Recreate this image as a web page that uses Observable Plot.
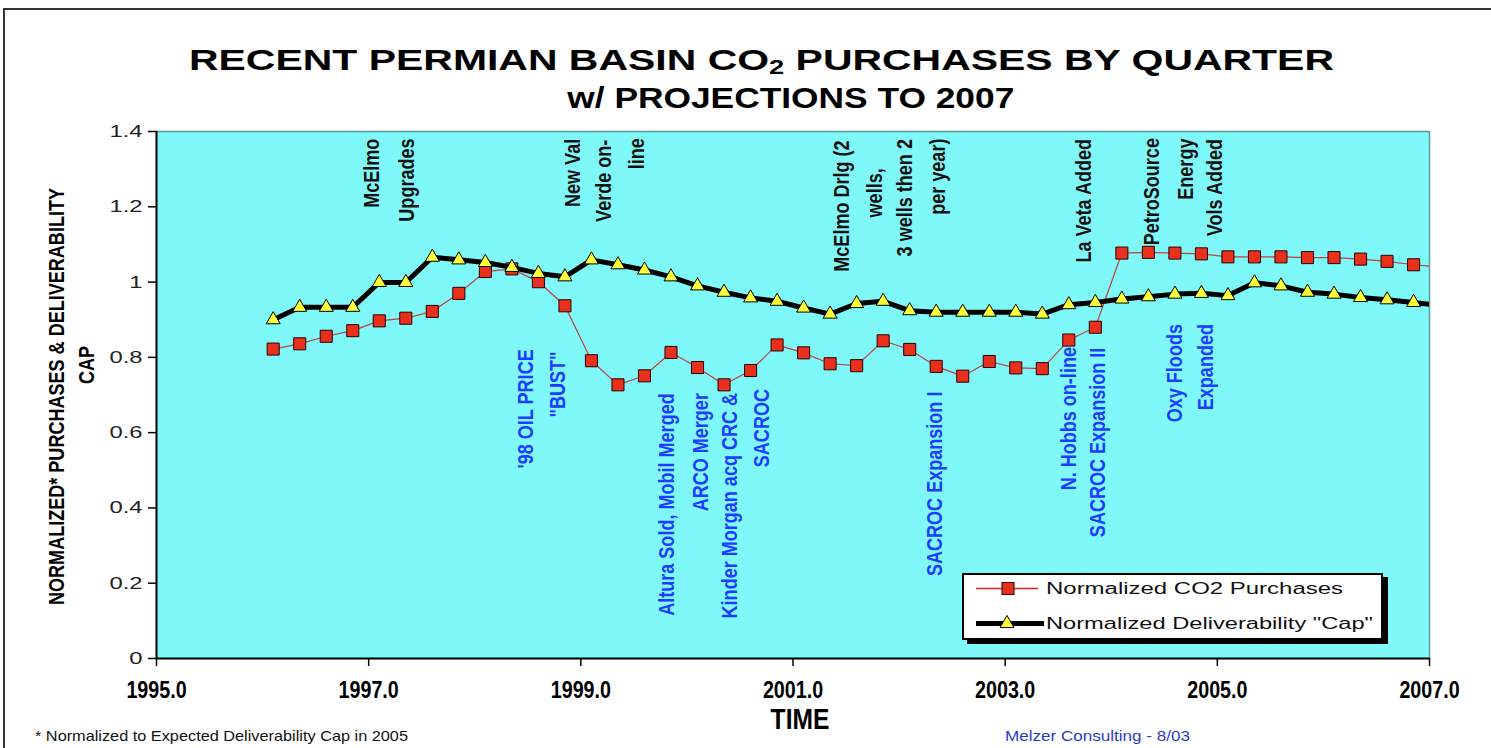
<!DOCTYPE html>
<html><head><meta charset="utf-8">
<script src="https://cdn.jsdelivr.net/npm/d3@7"></script>
<script src="https://cdn.jsdelivr.net/npm/@observablehq/plot@0.6"></script>
<style>
body{margin:0;background:#fff;width:1491px;height:748px;overflow:hidden;position:relative;font-family:"Liberation Sans",Arial,sans-serif}
#frame{position:absolute;left:3px;top:8px;width:1520px;height:800px;border:2px solid #333;box-sizing:border-box;pointer-events:none}
#title{height:118px;position:relative}
.tline{position:absolute;width:1491px;text-align:center;font-weight:bold;color:#000;white-space:nowrap;font-size:30px;line-height:30px}
.tline span{display:inline-block;transform-origin:50% 50%}
#chart svg{display:block}
.note{position:absolute;white-space:nowrap;font-size:15px;line-height:15px;transform-origin:0 50%}
#legend{position:absolute;left:962px;top:573px;width:421px;height:67px;background:#fff;border:2px solid #000;box-shadow:5px 4px 0 #000;box-sizing:border-box}
</style></head>
<body>
<div id="frame"></div>
<div id="title">
  <div class="tline" id="t1" style="left:16px;top:45px"><span></span></div>
  <div class="tline" id="t2" style="left:45px;top:83px"><span></span></div>
</div>
<div id="chart"></div>
<div class="note" id="foot1" style="left:35px;top:728px;color:#111"></div>
<div class="note" id="foot2" style="left:1005px;top:728px;color:#2a3cc8"></div>
<div id="legend"></div>
<script>
// ---- data ----
const time = [1996.10,1996.35,1996.60,1996.85,1997.10,1997.35,1997.60,1997.85,1998.10,1998.35,1998.60,1998.85,
  1999.10,1999.35,1999.60,1999.85,2000.10,2000.35,2000.60,2000.85,2001.10,2001.35,2001.60,2001.85,
  2002.10,2002.35,2002.60,2002.85,2003.10,2003.35,2003.60,2003.85,2004.10,2004.35,2004.60,2004.85,
  2005.10,2005.35,2005.60,2005.85,2006.10,2006.35,2006.60,2006.85,2007.10];
const purchases = [0.822,0.836,0.856,0.871,0.897,0.904,0.922,0.970,1.028,1.035,1.001,0.937,
  0.791,0.727,0.751,0.813,0.773,0.727,0.765,0.833,0.812,0.783,0.778,0.844,
  0.821,0.776,0.750,0.789,0.772,0.770,0.846,0.880,1.077,1.079,1.077,1.075,
  1.067,1.067,1.067,1.065,1.065,1.061,1.055,1.046,1.040];
const deliverability = [0.900,0.933,0.933,0.933,0.999,0.999,1.066,1.059,1.052,1.039,1.023,1.014,
  1.059,1.046,1.032,1.014,0.990,0.973,0.958,0.949,0.931,0.915,0.943,0.949,
  0.924,0.920,0.920,0.920,0.920,0.915,0.940,0.946,0.955,0.961,0.968,0.970,
  0.964,0.998,0.990,0.973,0.968,0.959,0.953,0.946,0.938];
const xTicks = [1995,1997,1999,2001,2003,2005,2007];
const yTicks = [0,0.2,0.4,0.6,0.8,1,1.2,1.4];
const seriesNames = ["Normalized CO2  Purchases", "Normalized Deliverability \"Cap\""];
const titleLine1 = ["RECENT PERMIAN BASIN CO", "2", " PURCHASES BY QUARTER"];
const titleLine2 = "w/ PROJECTIONS TO 2007";
const yLabelLines = ["NORMALIZED* PURCHASES & DELIVERABILITY", "CAP"];
const xLabel = "TIME";
const footnote = "* Normalized to Expected Deliverability Cap in 2005";
const credit = "Melzer Consulting - 8/03";
const blackNotes = [
  {text:"McElmo", x:1997.03, y:1.289},
  {text:"Upgrades", x:1997.36, y:1.271},
  {text:"New Val", x:1998.93, y:1.290},
  {text:"Verde on-", x:1999.22, y:1.269},
  {text:"line", x:1999.53, y:1.341},
  {text:"McElmo Drlg (2", x:2001.46, y:1.202},
  {text:"wells,", x:2001.77, y:1.237},
  {text:"3 wells then 2", x:2002.06, y:1.224},
  {text:"per year)", x:2002.37, y:1.280},
  {text:"La Veta Added", x:2003.74, y:1.216},
  {text:"PetroSource", x:2004.38, y:1.240},
  {text:"Energy", x:2004.70, y:1.300},
  {text:"Vols Added", x:2004.98, y:1.251}
];
const blueNotes = [
  {text:"'98 OIL PRICE", x:1998.48, y:0.663},
  {text:"\"BUST\"", x:1998.78, y:0.728},
  {text:"Altura Sold, Mobil Merged", x:1999.81, y:0.409},
  {text:"ARCO Merger", x:2000.13, y:0.548},
  {text:"Kinder Morgan acq CRC &", x:2000.41, y:0.406},
  {text:"SACROC", x:2000.71, y:0.612},
  {text:"SACROC Expansion I", x:2002.34, y:0.464},
  {text:"N. Hobbs on-line", x:2003.60, y:0.637},
  {text:"SACROC Expansion II", x:2003.87, y:0.574},
  {text:"Oxy Floods", x:2004.60, y:0.758},
  {text:"Expanded", x:2004.89, y:0.774}
];

// ---- build ----
const rows = time.map((t, i) => ({t, p: purchases[i], d: deliverability[i]}));
const NARROW = "'Liberation Sans','Arial Narrow',sans-serif"; // condensed below via textLength
const RED = "#e8301c";

const chart = Plot.plot({
  width: 1491, height: 630,
  marginLeft: 156, marginRight: 62, marginTop: 13, marginBottom: 90,
  x: {domain: [1995, 2007]},
  y: {domain: [0, 1.4]},
  style: {background: "transparent", overflow: "visible", fontFamily: "'Liberation Sans',Arial,sans-serif"},
  marks: [
    Plot.frame({fill: "#7ef8f8", stroke: null}),
    Plot.ruleY([1.4], {stroke: "#5d9c9c", strokeWidth: 1.5}),
    Plot.ruleX([2007], {stroke: "#5d9c9c", strokeWidth: 1.5}),
    Plot.text(blackNotes, {x: "x", y: "y", text: "text", rotate: -90, fill: "#111",
      fontSize: 22, fontWeight: "bold", fontFamily: NARROW}),
    Plot.text(blueNotes, {x: "x", y: "y", text: "text", rotate: -90, fill: "#1e3cff",
      fontSize: 22, fontWeight: "bold", fontFamily: NARROW}),
    Plot.line(rows, {x: "t", y: "p", stroke: "#c04040", strokeWidth: 1.2, clip: true}),
    Plot.dot(rows, {x: "t", y: "p", symbol: "square", r: 6.8, fill: RED, stroke: "#2a0000", strokeWidth: 1, clip: true}),
    Plot.line(rows, {x: "t", y: "d", stroke: "#000", strokeWidth: 5, clip: true}),
    Plot.dot(rows, {x: "t", y: "d", symbol: "triangle", r: 5.2, fill: "#ffff3a", stroke: "#000", strokeWidth: 1, clip: true}),
    Plot.axisY({ticks: yTicks, tickFormat: d => String(d), tickSize: 8, tickPadding: 6, label: null, fontSize: 17, fill: "#222", stroke: "#000", strokeWidth: 1.5}),
    Plot.axisX({ticks: xTicks, tickFormat: d => d.toFixed(1), tickSize: 8, tickPadding: 14, label: null,
      fontSize: 24, fontWeight: "bold", fontFamily: NARROW, fill: "#000", stroke: "#000", strokeWidth: 1.5}),
    Plot.ruleX([1995], {stroke: "#000", strokeWidth: 2}),
    Plot.ruleY([0], {stroke: "#000", strokeWidth: 2}),
    Plot.text([xLabel], {frameAnchor: "bottom", dx: 7, dy: 70, fontSize: 30, fontWeight: "bold", fontFamily: NARROW, fill: "#000"}),
    Plot.text([yLabelLines[0]], {frameAnchor: "left", textAnchor: "middle", rotate: -90, dx: -100, dy: 1.5, fontSize: 22, fontWeight: "bold", fontFamily: NARROW, fill: "#000"}),
    Plot.text([yLabelLines[1]], {frameAnchor: "left", textAnchor: "middle", rotate: -90, dx: -70, dy: -30, fontSize: 22, fontWeight: "bold", fontFamily: NARROW, fill: "#000"})
  ]
});
document.getElementById("chart").appendChild(chart);

function setLength(el, factor) {
  const L = el.getComputedTextLength();
  el.setAttribute("textLength", L * factor);
  el.setAttribute("lengthAdjust", "spacingAndGlyphs");
}
// widen y tick labels (the reference is horizontally stretched)
d3.select(chart).selectAll('g[aria-label="y-axis tick label"] text').each(function() { setLength(this, 1.4); });
// condense the "narrow" texts (no narrow face is installed)
d3.select(chart).selectAll("g").filter(function() { return (this.getAttribute("font-family") || "").includes("Narrow"); })
  .selectAll("text").each(function() { setLength(this, 0.82); });

// title
const s1 = document.querySelector("#t1 span");
s1.append(titleLine1[0]);
const sub = document.createElement("sub"); sub.textContent = titleLine1[1]; sub.style.fontSize = "20px"; sub.style.verticalAlign = "-4px";
s1.append(sub); s1.append(titleLine1[2]);
document.querySelector("#t2 span").textContent = titleLine2;
function fitCenter(el, target) { const w = el.getBoundingClientRect().width; el.style.transform = `scaleX(${target / w})`; }
fitCenter(s1, 1145);
fitCenter(document.querySelector("#t2 span"), 447);

// footnotes
function fitLeft(el, target) { el.style.display = "inline-block"; const w = el.getBoundingClientRect().width; el.style.transform = `scaleX(${target / w})`; }
const f1 = document.getElementById("foot1"); f1.textContent = footnote; fitLeft(f1, 373);
const f2 = document.getElementById("foot2"); f2.textContent = credit; fitLeft(f2, 185);

// legend
const lg = d3.select("#legend").append("svg").attr("width", 417).attr("height", 63).style("display", "block");
const rowsY = [13.5, 48.5];
lg.append("line").attr("x1", 12).attr("x2", 74).attr("y1", rowsY[0]).attr("y2", rowsY[0]).attr("stroke", "#e02020").attr("stroke-width", 1.3);
lg.append("rect").attr("x", 38).attr("y", rowsY[0] - 6).attr("width", 12).attr("height", 12).attr("fill", RED).attr("stroke", "#2a0000");
lg.append("line").attr("x1", 12).attr("x2", 80).attr("y1", rowsY[1]).attr("y2", rowsY[1]).attr("stroke", "#000").attr("stroke-width", 5);
lg.append("path").attr("d", d3.symbol(d3.symbolTriangle, Math.PI * 5.2 * 5.2)()).attr("transform", `translate(43,${rowsY[1]})`)
  .attr("fill", "#ffff3a").attr("stroke", "#000");
const widths = [297, 327];
seriesNames.forEach((n, i) => {
  const t = lg.append("text").attr("x", 82).attr("y", rowsY[i]).attr("dy", "0.35em").attr("font-size", 16)
    .attr("font-family", "'Liberation Sans',Arial,sans-serif").attr("fill", "#111").text(n);
  t.attr("textLength", widths[i]).attr("lengthAdjust", "spacingAndGlyphs");
});
</script>
</body></html>
